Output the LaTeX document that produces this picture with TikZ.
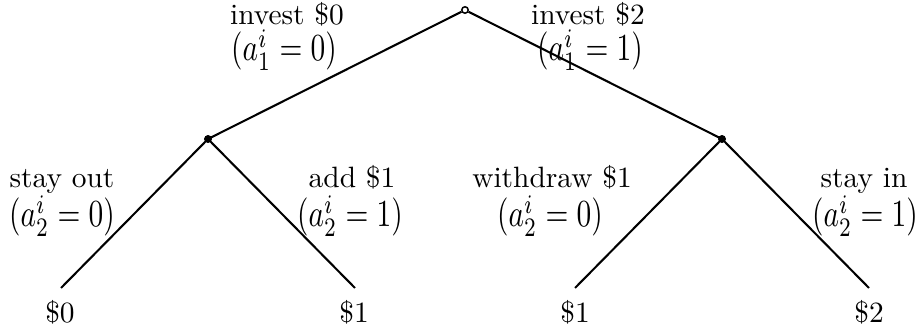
\documentclass[tikz,border=0pt]{standalone}
\usepackage{graphicx}
\newcommand{\tallmath}[1]{\scalebox{1}[1.3]{$#1$}}
\begin{document}
\begin{tikzpicture}[x=0.34pt,y=-0.34pt,
  edge/.style={line width=0.7pt},
  opendot/.style={circle,draw,line width=0.5pt,fill=white,inner sep=0pt,minimum size=2.2pt},
  fulldot/.style={circle,fill=black,inner sep=0pt,minimum size=2.6pt},
  lbl/.style={inner sep=0pt,anchor=base},
  leaf/.style={inner sep=0pt,anchor=base}]
\useasboundingbox (0,0) rectangle (920,336);
% leaf end points
\coordinate (l1) at (61,288);
\coordinate (l2) at (355,288);
\coordinate (l3) at (575,288);
\coordinate (l4) at (869,288);
% inner nodes
\node[fulldot] (L) at (208,139) {};
\node[fulldot] (R) at (722,139) {};
\draw[edge] (L.center) -- (l1);
\draw[edge] (L.center) -- (l2);
\draw[edge] (R.center) -- (l3);
\draw[edge] (R.center) -- (l4);
\node[opendot] (root) at (465,10) {};
\draw[edge] (root) -- (L.center);
\draw[edge] (root) -- (R.center);
\node[fulldot] at (L) {};
\node[fulldot] at (R) {};
% edge labels: first line
\node[lbl] (e1a) at (287,25) {invest \$0};
\node[lbl] (e2a) at (588,25) {invest \$2};
\node[lbl] (e3a) at (62,188) {stay out};
\node[lbl] (e4a) at (352,188) {add \$1};
\node[lbl] (e5a) at (552,188) {withdraw \$1};
\node[lbl] (e6a) at (864,188) {stay in};
% edge labels: second line
\node[lbl] (e1b) at (284,61) {\tallmath{(a_1^i=0)}};
\node[lbl] (e2b) at (590,61) {\tallmath{(a_1^i=1)}};
\node[lbl] (e3b) at (62,227) {\tallmath{(a_2^i=0)}};
\node[lbl] (e4b) at (350,227) {\tallmath{(a_2^i=1)}};
\node[lbl] (e5b) at (550,227) {\tallmath{(a_2^i=0)}};
\node[lbl] (e6b) at (865,227) {\tallmath{(a_2^i=1)}};
% leaf labels
\node[leaf] (p1) at (60,323) {\$0};
\node[leaf] (p2) at (354,323) {\$1};
\node[leaf] (p3) at (575,323) {\$1};
\node[leaf] (p4) at (869,323) {\$2};
\end{tikzpicture}
\end{document}
